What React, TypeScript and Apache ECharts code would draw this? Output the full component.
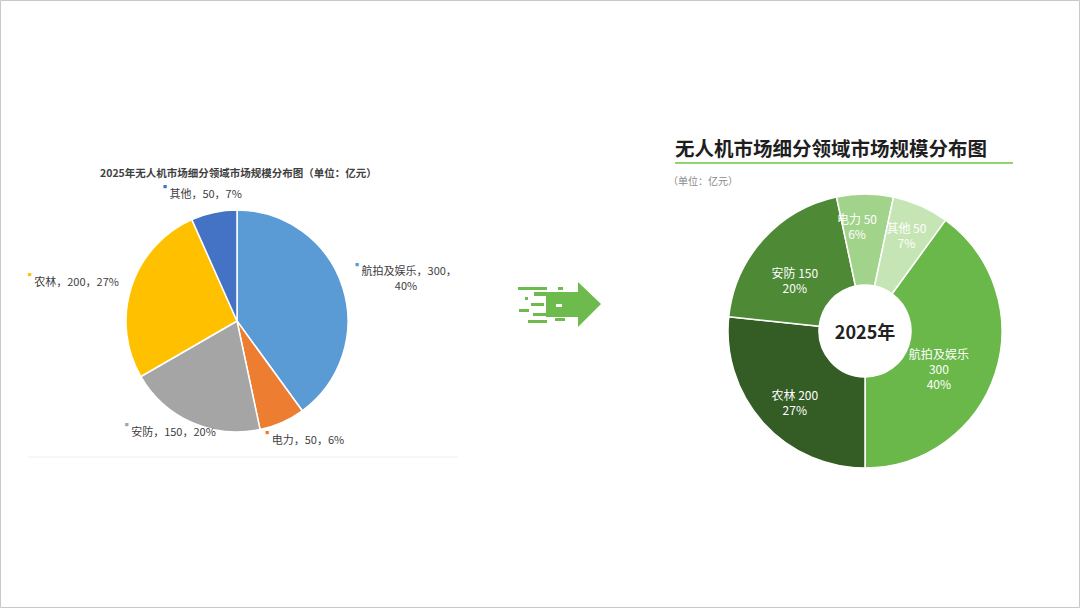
import React, { useEffect, useRef } from "react";
import * as echarts from "echarts";

// ---- data ----
const leftCategories = ["航拍及娱乐", "电力", "安防", "农林", "其他"];
const leftValues = [300, 50, 150, 200, 50];
const leftPercents = ["40%", "6%", "20%", "27%", "7%"];
const leftColors = ["#5b9bd5", "#ed7d31", "#a5a5a5", "#ffc000", "#4472c4"];

const rightCategories = ["航拍及娱乐", "农林", "安防", "电力", "其他"];
const rightValues = [300, 200, 150, 50, 50];
const rightPercents = ["40%", "27%", "20%", "6%", "7%"];
const rightColors = ["#6ab84a", "#345c25", "#4e8a36", "#a2d38b", "#c6e5b5"];

const leftTitle = "2025年无人机市场细分领域市场规模分布图（单位：亿元）";
const rightTitle = "无人机市场细分领域市场规模分布图";
const rightUnit = "（单位：亿元）";
const centerLabel = "2025年";

// label nudges (layout only)
const leftLabelShift = [
  { dx: -2, dy: -6 },
  { dx: -26, dy: 7 },
  { dx: 33, dy: -1 },
  { dx: 2, dy: -3 },
  { dx: 35, dy: -10 },
];
const rightLabelShift = [
  { dx: -16, dy: 8 },
  { dx: 0, dy: 8 },
  { dx: 0, dy: 12 },
  { dx: -8, dy: -11 },
  { dx: 3, dy: -10 },
];

const FONT = "'Noto Sans CJK SC', 'Noto Sans', sans-serif";
const GREEN = "#6cbb4c";

export default function App() {
  const ref = useRef<HTMLDivElement>(null);
  useEffect(() => {
    if (!ref.current) return;
    const chart = echarts.init(ref.current, undefined, { renderer: "svg" });

    const arrowParts: any[] = [
      { type: "rect", shape: { x: 518, y: 287, width: 29, height: 3 } },
      { type: "rect", shape: { x: 558, y: 287, width: 5, height: 3 } },
      { type: "rect", shape: { x: 534, y: 292, width: 45, height: 4 } },
      { type: "rect", shape: { x: 525, y: 297, width: 3, height: 3 } },
      { type: "rect", shape: { x: 546, y: 296, width: 33, height: 21 } },
      { type: "rect", shape: { x: 531, y: 303, width: 13, height: 3 } },
      { type: "rect", shape: { x: 519, y: 309, width: 10, height: 3 } },
      { type: "rect", shape: { x: 533, y: 313, width: 13, height: 3 } },
      { type: "rect", shape: { x: 528, y: 320, width: 19, height: 3 } },
      { type: "rect", shape: { x: 555, y: 318, width: 10, height: 3 } },
      { type: "polygon", shape: { points: [[578, 282], [601, 304], [578, 327]] } },
    ].map((p) => ({ ...p, style: { fill: GREEN } }));
    arrowParts.push(
      { type: "rect", shape: { x: 534, y: 301, width: 10, height: 2 }, style: { fill: "#fff" } },
      { type: "rect", shape: { x: 556, y: 304, width: 6, height: 3 }, style: { fill: "#fff" } }
    );

    const option: any = {
      animation: false,
      backgroundColor: "#ffffff",
      textStyle: { fontFamily: FONT },
      graphic: [
        {
          type: "rect",
          shape: { x: 0.5, y: 0.5, width: 1079, height: 607 },
          style: { fill: "none", stroke: "#c8c8c8", lineWidth: 1 },
          silent: true,
        },
        {
          type: "line",
          shape: { x1: 28, y1: 457, x2: 458, y2: 457 },
          style: { stroke: "#eeeeee", lineWidth: 1 },
        },
        {
          type: "text",
          x: 100,
          y: 172,
          style: {
            text: leftTitle,
            fontSize: 10.5,
            fontWeight: "bold",
            fill: "#404040",
            fontFamily: FONT,
            verticalAlign: "middle",
          },
        },
        {
          type: "text",
          x: 675,
          y: 147,
          style: {
            text: rightTitle,
            fontSize: 19.5,
            fontWeight: "bold",
            fill: "#1e1e1e",
            fontFamily: FONT,
            verticalAlign: "middle",
          },
        },
        {
          type: "rect",
          shape: { x: 675, y: 162, width: 338, height: 2 },
          style: { fill: "#8fd470" },
        },
        {
          type: "text",
          x: 668,
          y: 180,
          style: {
            text: rightUnit,
            fontSize: 10,
            fill: "#8a8a8a",
            fontFamily: FONT,
            verticalAlign: "middle",
          },
        },
        { type: "group", children: arrowParts },
      ],
      series: [
        {
          type: "pie",
          center: [237, 321],
          radius: 111,
          startAngle: 90,
          clockwise: true,
          itemStyle: { borderColor: "#fff", borderWidth: 1.5 },
          label: {
            show: true,
            position: "outside",
            fontFamily: FONT,
            fontSize: 11,
            color: "#404040",
            formatter: (p: any) => {
              const i = p.dataIndex;
              const dot = `{d${i}|■} `;
              if (i === 0) {
                return `${dot}{t|${leftCategories[i]}，${leftValues[i]}，}\n{c|${leftPercents[i]}}`;
              }
              return `${dot}{t|${leftCategories[i]}，${leftValues[i]}，${leftPercents[i]}}`;
            },
            rich: {
              t: { fontSize: 11, color: "#404040", fontFamily: FONT, lineHeight: 15 },
              c: { fontSize: 11, color: "#404040", fontFamily: FONT, lineHeight: 15, align: "center" },
              ...Object.fromEntries(
                leftColors.map((c, i) => [`d${i}`, { fontSize: 4, color: c, verticalAlign: "top" }])
              ),
            },
          },
          labelLine: { show: false, length: 10, length2: 0 },
          labelLayout: (params: any) => {
            const s = leftLabelShift[params.dataIndex];
            return { dx: s.dx, dy: s.dy, hideOverlap: false };
          },
          data: leftCategories.map((n, i) => ({
            name: n,
            value: leftValues[i],
            itemStyle: { color: leftColors[i] },
          })),
        },
        {
          type: "pie",
          center: [865, 331],
          radius: [46, 137],
          startAngle: 54,
          clockwise: true,
          avoidLabelOverlap: false,
          itemStyle: { borderColor: "#fff", borderWidth: 1.5 },
          label: {
            show: true,
            position: "inside",
            fontFamily: FONT,
            fontSize: 12,
            lineHeight: 15,
            color: "#ffffff",
            formatter: (p: any) => {
              const i = p.dataIndex;
              if (i === 0) return `${rightCategories[i]}\n${rightValues[i]}\n${rightPercents[i]}`;
              return `${rightCategories[i]} ${rightValues[i]}\n${rightPercents[i]}`;
            },
          },
          labelLayout: (params: any) => {
            const s = rightLabelShift[params.dataIndex];
            return { dx: s.dx, dy: s.dy, hideOverlap: false };
          },
          labelLine: { show: false },
          data: rightCategories.map((n, i) => ({
            name: n,
            value: rightValues[i],
            itemStyle: { color: rightColors[i] },
          })),
        },
        {
          type: "pie",
          center: [865, 331],
          radius: [0, 46],
          silent: true,
          itemStyle: { color: "#ffffff" },
          label: {
            show: true,
            position: "center",
            formatter: () => centerLabel,
            fontFamily: FONT,
            fontSize: 18,
            fontWeight: "bold",
            color: "#222222",
          },
          labelLine: { show: false },
          data: [{ name: centerLabel, value: 1 }],
        },
      ],
    };
    chart.setOption(option);
    return () => chart.dispose();
  }, []);

  return (
    <div
      ref={ref}
      style={{ position: "fixed", left: 0, top: 0, width: 1080, height: 608 }}
    />
  );
}
